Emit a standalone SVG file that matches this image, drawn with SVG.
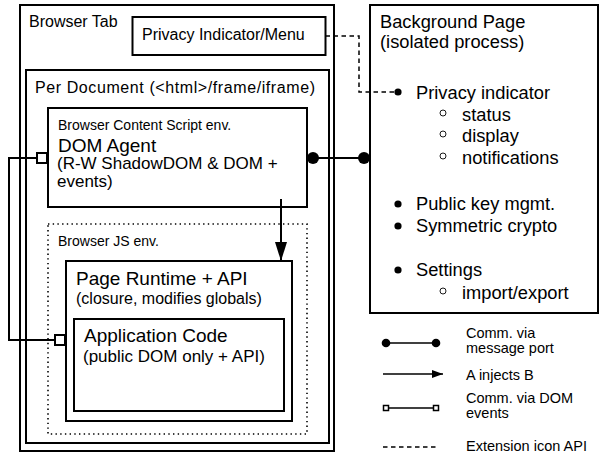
<svg xmlns="http://www.w3.org/2000/svg" width="599" height="453" viewBox="0 0 599 453">
<style>
text{font-family:"Liberation Sans",Arial,sans-serif;fill:#000}
.box{fill:none;stroke:#000;stroke-width:2}
.wbox{fill:#fff;stroke:#000;stroke-width:2}
.dotted{fill:none;stroke:#000;stroke-width:1.6;stroke-dasharray:1.4 3.3}
.line{fill:none;stroke:#000;stroke-width:2}
.thin{fill:none;stroke:#000;stroke-width:1.5}
.dash{fill:none;stroke:#000;stroke-width:1.5;stroke-dasharray:4.5 3.5}
.t16{font-size:16px}
.t14{font-size:14px}
.t19{font-size:19px}
.t17{font-size:17px}
.t18{font-size:18.3px}
.lg{font-size:14.5px}
.hollow{fill:#fff;stroke:#000;stroke-width:0.9}
</style>
<defs>
<marker id="arrow" viewBox="0 0 19 12" refX="19" refY="6" markerWidth="19" markerHeight="12" markerUnits="userSpaceOnUse" orient="auto">
<path d="M0,0 L19,6 L0,12 Z" fill="#000"/>
</marker>
<marker id="arrowS" viewBox="0 0 11 8" refX="11" refY="4" markerWidth="11" markerHeight="8" markerUnits="userSpaceOnUse" orient="auto">
<path d="M0,0 L11,4 L0,8 Z" fill="#000"/>
</marker>
</defs>
<rect width="599" height="453" fill="#fff"/>

<g id="browser-tab">
<rect class="box" x="20" y="5" width="314" height="446"/>
<text class="t16" x="29" y="27">Browser Tab</text>
</g>

<g id="privacy-menu">
<rect class="box" x="132.5" y="17" width="193" height="38"/>
<text class="t16" x="142" y="40">Privacy Indicator/Menu</text>
</g>

<g id="per-document">
<rect class="box" x="26" y="70" width="303" height="373"/>
<text class="t16" x="35" y="93" textLength="280" lengthAdjust="spacing">Per Document (&lt;html&gt;/frame/iframe)</text>
</g>

<g id="dom-agent">
<rect class="box" x="48" y="108" width="259" height="99"/>
<text class="t14" x="58" y="130">Browser Content Script env.</text>
<text class="t19" x="58" y="152">DOM Agent</text>
<text class="t17" x="57" y="169">(R-W ShadowDOM &amp; DOM +</text>
<text class="t17" x="57" y="187">events)</text>
</g>

<g id="browser-js-env">
<rect class="dotted" x="48" y="224" width="259" height="210"/>
<text class="t14" x="58" y="246">Browser JS env.</text>
</g>

<g id="page-runtime">
<rect class="box" x="66" y="261" width="226" height="160"/>
<text class="t19" x="76" y="285">Page Runtime + API</text>
<text class="t16" x="76" y="304">(closure, modifies globals)</text>
</g>

<g id="application-code">
<rect class="box" x="74" y="319" width="210" height="92"/>
<text class="t19" x="84" y="342">Application Code</text>
<text class="t17" x="83" y="362">(public DOM only + API)</text>
</g>

<g id="background-page">
<rect class="box" x="370" y="5" width="228" height="308"/>
<text class="t18" x="380" y="28">Background Page</text>
<text class="t18" x="380" y="48">(isolated process)</text>
<circle cx="398" cy="92" r="3.6"/>
<text class="t18" x="416" y="99">Privacy indicator</text>
<circle class="hollow" cx="443" cy="113" r="3"/>
<text class="t18" x="462" y="121">status</text>
<circle class="hollow" cx="443" cy="134" r="3"/>
<text class="t18" x="462" y="142">display</text>
<circle class="hollow" cx="443" cy="156" r="3"/>
<text class="t18" x="462" y="164">notifications</text>
<circle cx="398" cy="204" r="3.6"/>
<text class="t18" x="416" y="210">Public key mgmt.</text>
<circle cx="398" cy="226" r="3.6"/>
<text class="t18" x="416" y="232">Symmetric crypto</text>
<circle cx="398" cy="270" r="3.6"/>
<text class="t18" x="416" y="276">Settings</text>
<circle class="hollow" cx="443" cy="291" r="3"/>
<text class="t18" x="462" y="299">import/export</text>
</g>

<g id="connectors">
<path class="dash" d="M325.5,36 H359 V92 H396"/>
<path class="line" d="M313,158 H364"/>
<circle cx="313" cy="158" r="6"/>
<circle cx="364" cy="158" r="6"/>
<path class="line" d="M281,199 V261" marker-end="url(#arrow)"/>
<path class="line" d="M37,158 H9 V340 H55"/>
<rect class="wbox" x="37" y="153" width="10" height="10"/>
<rect class="wbox" x="55" y="335" width="10" height="10"/>
</g>

<g id="legend">
<path class="thin" d="M386,343 H436"/>
<circle cx="386" cy="343" r="4.3"/>
<circle cx="436" cy="343" r="4.3"/>
<text class="lg" x="466" y="338">Comm. via</text>
<text class="lg" x="466" y="353">message port</text>
<path class="thin" d="M383,374 H443" marker-end="url(#arrowS)"/>
<text class="lg" x="466" y="380">A injects B</text>
<path class="thin" d="M388,408 H433"/>
<rect x="383.5" y="405.5" width="5" height="5" fill="#fff" stroke="#000" stroke-width="1.5"/>
<rect x="433.5" y="405.5" width="5" height="5" fill="#fff" stroke="#000" stroke-width="1.5"/>
<text class="lg" x="466" y="403">Comm. via DOM</text>
<text class="lg" x="466" y="418">events</text>
<path class="dash" d="M383,447 H438"/>
<text class="lg" x="466" y="451">Extension icon API</text>
</g>
</svg>
